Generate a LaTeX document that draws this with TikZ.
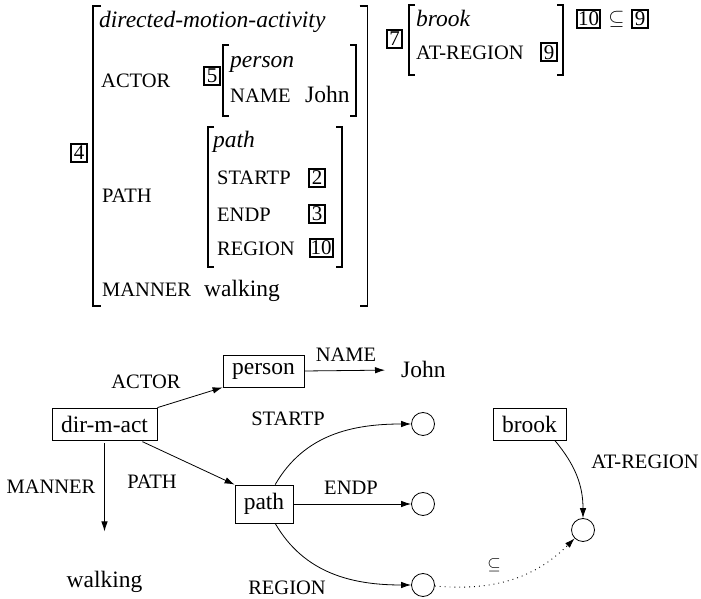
\documentclass[tikz,border=0pt]{standalone}
\usepackage{fontspec}
\setmainfont{Liberation Serif}
\usetikzlibrary{arrows.meta}
\begin{document}
\fontsize{23.5}{28}\selectfont
\begin{tikzpicture}[x=1pt,y=1pt,
  lbl/.style={inner sep=0pt, font=\fontsize{20.5}{23}\selectfont},
  txt/.style={inner sep=0pt, anchor=base west},
  num/.style={draw, line width=2pt, inner sep=1pt, minimum width=15.5pt, minimum height=18pt, font=\fontsize{21}{21}\selectfont},
  box/.style={draw, line width=0.8pt, inner sep=0pt},
  circ/.style={draw, circle, minimum size=23pt, inner sep=0pt, line width=0.8pt},
  arr/.style={-{Latex[length=10pt,width=6.5pt]}, line width=0.8pt},
  dotline/.style={line width=0.9pt, dash pattern=on 0.9pt off 4pt},
  brk/.style={line width=1.3pt}]
\useasboundingbox (0,0) rectangle (701,599);

% ---------- top AVM ----------
\draw[brk] (101,593) -- (93,593) -- (93,293) -- (101,293);
\draw[brk] (359.5,593) -- (367.5,593) -- (367.5,293) -- (359.5,293);
\draw[brk] (229,554) -- (223,554) -- (223,483) -- (229,483);
\draw[brk] (350,554) -- (356,554) -- (356,483) -- (350,483);
\draw[brk] (214,472) -- (208,472) -- (208,332) -- (214,332);
\draw[brk] (336,472) -- (342,472) -- (342,332) -- (336,332);
\draw[brk] (415,594) -- (409,594) -- (409,524) -- (415,524);
\draw[brk] (557,594) -- (563,594) -- (563,524) -- (557,524);

\node[num] (n4) at (79,446) {4};
\node[txt,font=\itshape] (dmat) at (99,571) {directed-motion-activity};
\node[lbl,txt] (actort) at (101,511) {ACTOR};
\node[num] (n5) at (212,523) {5};
\node[txt,font=\itshape] (persont) at (230,531) {person};
\node[lbl,txt] (namet) at (230,496) {NAME};
\node[txt] (johnt) at (305,496) {John};
\node[lbl,txt] (pathl) at (102,396) {PATH};
\node[txt,font=\itshape] (patht) at (213,451) {path};
\node[lbl,txt] (startpt) at (217,414) {STARTP};
\node[num] (n2) at (317,421) {2};
\node[lbl,txt] (endpt) at (217,377) {ENDP};
\node[num] (n3) at (317,385) {3};
\node[lbl,txt] (regiont) at (217,343) {REGION};
\node[num] (n10) at (321,351) {10};
\node[lbl,txt] (mannert) at (102,302) {MANNER};
\node[txt] (walkingt) at (204,302) {walking};

\node[num] (n7) at (394.5,560) {7};
\node[txt,font=\itshape] (brookt) at (416,572) {brook};
\node[lbl,txt] (atrt) at (416,539) {AT-REGION};
\node[num] (n9) at (549,546.5) {9};

\node[num] (n10b) at (588.5,580) {10};
\node[inner sep=0pt, font=\fontsize{20}{21}\selectfont] (subt) at (616.5,580) {$\subseteq$};
\node[num] (n9b) at (640,580) {9};

% ---------- bottom graph ----------
\node[box, minimum width=105pt, minimum height=32pt] (dma) at (104.5,175) {dir-m-act};
\node[box, minimum width=81pt, minimum height=32pt] (person) at (263.5,228) {person};
\node[box, minimum width=58pt, minimum height=38pt] (path) at (264,95) {path};
\node[box, minimum width=73pt, minimum height=32pt] (brook) at (529.5,175) {brook};
\node[txt] (john) at (401,221) {John};
\node[inner sep=0pt, anchor=base] (walking) at (104.5,11) {walking};

\node[circ] (c1) at (423,175) {};
\node[circ] (c2) at (423,95) {};
\node[circ] (c3) at (423,14) {};
\node[circ] (c4) at (583,69) {};

\draw[arr] (dma) -- (person.south west);
\draw[arr, shorten <=3pt] (dma) -- (path.north west);
\draw[arr, shorten <=3pt, shorten >=40pt] (dma.south) -- (walking.north);
\draw[arr, shorten >=16pt] (person.east) -- (john.west);
\draw[arr] (path) to[out=60,in=180] (c1);
\draw[arr] (path) -- (c2);
\draw[arr] (path) to[out=-60,in=180] (c3);
\draw[arr] (brook.-33) to[out=-50,in=90] (c4);
\draw[arr, dotline] (c3) to[out=-5,in=225] (c4);

\node[lbl] (lactor) at (146,217) {ACTOR};
\node[lbl] (lname) at (346,244) {NAME};
\node[lbl] (lstartp) at (288,180) {STARTP};
\node[lbl] (lendp) at (351,111) {ENDP};
\node[lbl] (lpath) at (152,117) {PATH};
\node[lbl] (lmanner) at (51,112) {MANNER};
\node[lbl] (lregion) at (287,11) {REGION};
\node[lbl] (latr) at (645,137) {AT-REGION};
\node[inner sep=0pt, font=\fontsize{19}{20}\selectfont] (lsub) at (494,34) {$\subseteq$};
\end{tikzpicture}
\end{document}
